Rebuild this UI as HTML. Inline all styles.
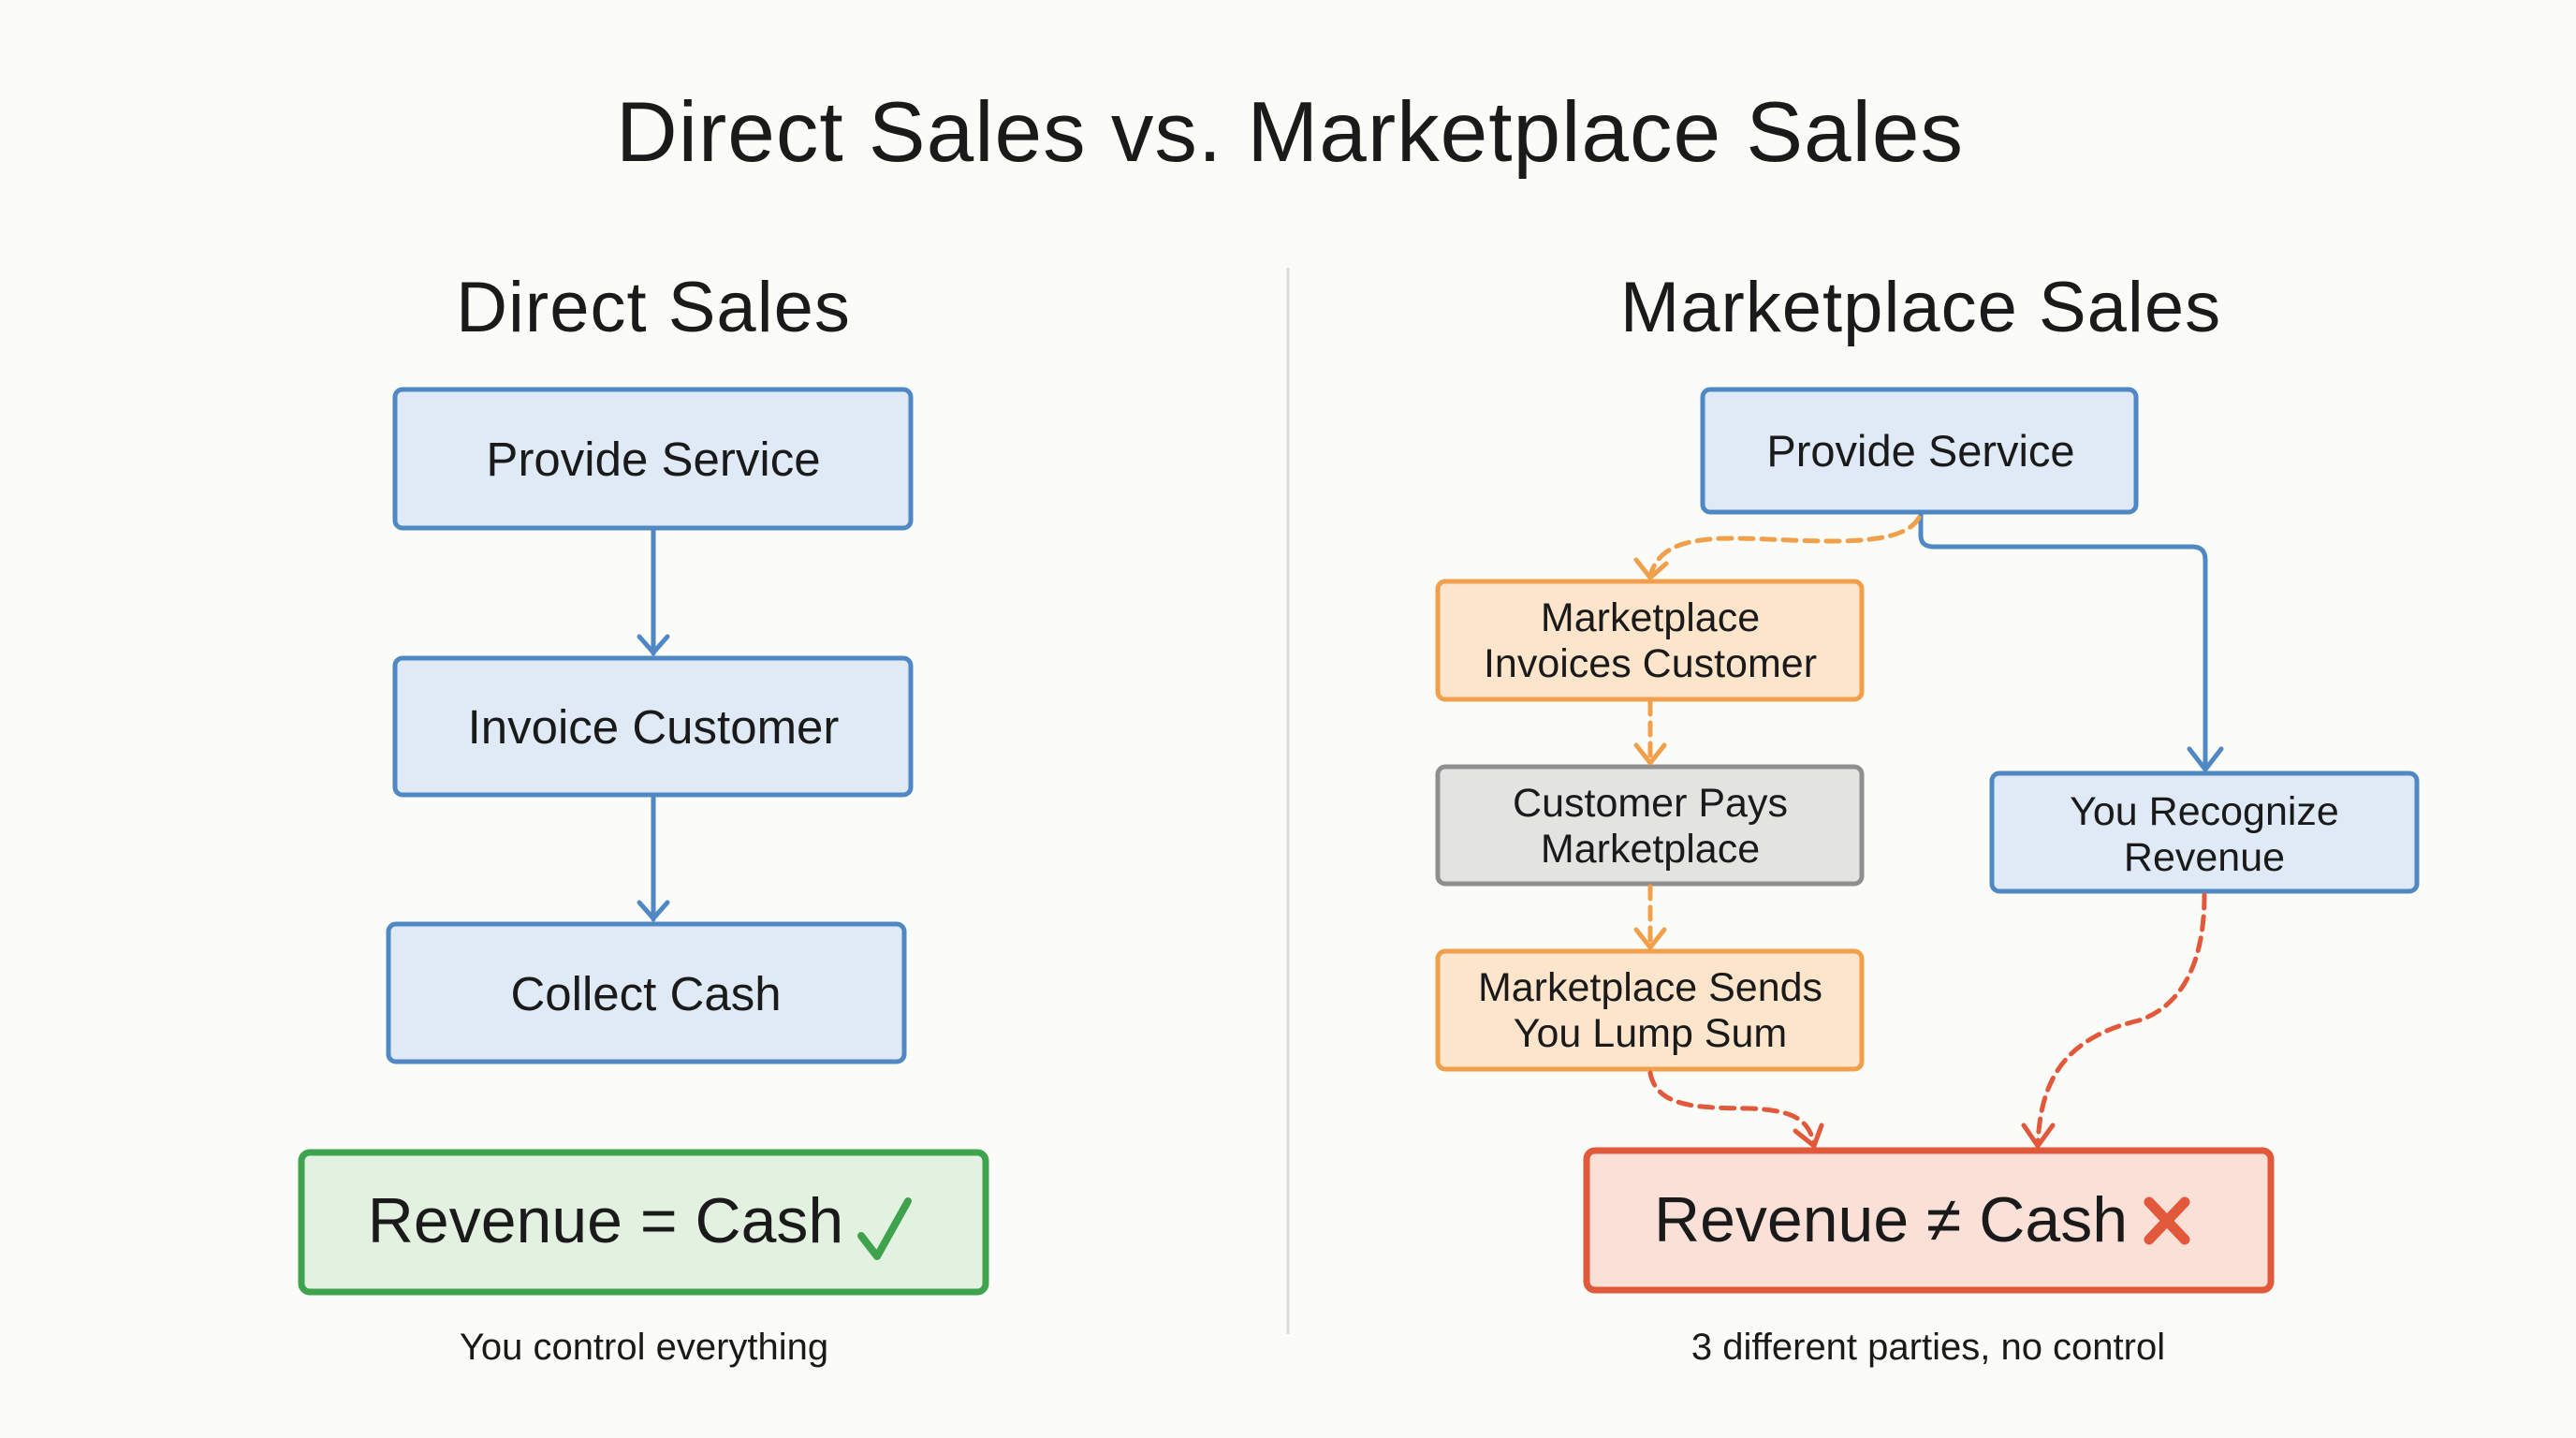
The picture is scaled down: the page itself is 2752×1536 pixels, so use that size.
<!DOCTYPE html>
<html><head><meta charset="utf-8"><style>
html,body{margin:0;padding:0;background:#fbfbf8;}
svg{display:block}
text{font-family:"Liberation Sans",sans-serif;fill:#1a1a1a;text-anchor:middle;}
</style></head><body>
<svg width="2752" height="1536" viewBox="0 0 2752 1536" xmlns="http://www.w3.org/2000/svg">
<rect width="2752" height="1536" fill="#fbfbf8"/>
<text x="1378" y="172" font-size="91" letter-spacing="1">Direct Sales vs. Marketplace Sales</text>
<text x="698" y="354" font-size="76" letter-spacing="1">Direct Sales</text>
<text x="2052" y="354" font-size="76" letter-spacing="1">Marketplace Sales</text>
<line x1="1376" y1="286" x2="1376" y2="1425" stroke="#dcdcdc" stroke-width="3"/>

<g stroke="#4f88c2" stroke-width="5" fill="#dfeaf6">
<rect x="422" y="416" width="551" height="148" rx="8"/>
<rect x="422" y="703" width="551" height="146" rx="8"/>
<rect x="415" y="987" width="551" height="147" rx="8"/>
</g>
<g stroke="#4f88c2" stroke-width="5" fill="none" stroke-linecap="round" stroke-linejoin="round">
<path d="M698 564 V698"/><path d="M683 680 L698 697 L713 680"/>
<path d="M698 849 V982"/><path d="M683 964 L698 981 L713 964"/>
</g>
<text x="698" y="508" font-size="51">Provide Service</text>
<text x="698" y="794" font-size="51">Invoice Customer</text>
<text x="690" y="1079" font-size="51">Collect Cash</text>
<rect x="322" y="1231" width="731" height="149" rx="9" fill="#e3f1e1" stroke="#3fa34d" stroke-width="7"/>
<text x="647" y="1327" font-size="68">Revenue = Cash</text>
<path d="M920 1320 L937 1342 L970 1283" stroke="#3fa34d" stroke-width="8" fill="none" stroke-linecap="round" stroke-linejoin="round"/>
<text x="688" y="1452" font-size="40">You control everything</text>

<rect x="1819" y="416" width="463" height="131" rx="8" fill="#dfeaf6" stroke="#4f88c2" stroke-width="5"/>
<text x="2052" y="498" font-size="47">Provide Service</text>
<rect x="1536" y="621" width="453" height="126" rx="8" fill="#fde5cb" stroke="#f0a04a" stroke-width="5"/>
<text x="1763" y="674" font-size="43">Marketplace</text>
<text x="1763" y="723" font-size="43">Invoices Customer</text>
<rect x="1536" y="819" width="453" height="125" rx="8" fill="#e3e3e2" stroke="#8f8f8f" stroke-width="5"/>
<text x="1763" y="872" font-size="43">Customer Pays</text>
<text x="1763" y="921" font-size="43">Marketplace</text>
<rect x="1536" y="1016" width="453" height="126" rx="8" fill="#fde5cb" stroke="#f0a04a" stroke-width="5"/>
<text x="1763" y="1069" font-size="43">Marketplace Sends</text>
<text x="1763" y="1118" font-size="43">You Lump Sum</text>
<rect x="2128" y="826" width="454" height="126" rx="8" fill="#dfeaf6" stroke="#4f88c2" stroke-width="5"/>
<text x="2355" y="881" font-size="43">You Recognize</text>
<text x="2355" y="930" font-size="43">Revenue</text>
<rect x="1695" y="1229" width="731" height="149" rx="9" fill="#fbe0d8" stroke="#e2583a" stroke-width="7"/>
<text x="2020" y="1326" font-size="68">Revenue ≠ Cash</text>
<path d="M2296 1284 L2334 1324 M2334 1284 L2296 1324" stroke="#e2583a" stroke-width="11" stroke-linecap="round"/>
<text x="2060" y="1452" font-size="40">3 different parties, no control</text>

<g fill="none" stroke-linecap="round" stroke-linejoin="round">
<path d="M2052 549 V572 Q2052 584 2066 584 H2342 Q2356 584 2356 598 V822" stroke="#4f88c2" stroke-width="5"/>
<path d="M2339 800 L2356 822 L2373 800" stroke="#4f88c2" stroke-width="5"/>
<path d="M2050 553 C2030 590 1920 575 1850 575 C1790 575 1770 590 1763 615" stroke="#f0a04a" stroke-width="5" stroke-dasharray="14 9"/>
<path d="M1748 598 L1763 617 L1780 602" stroke="#f0a04a" stroke-width="5"/>
<path d="M1763 750 V813" stroke="#f0a04a" stroke-width="5" stroke-dasharray="13 9"/>
<path d="M1748 796 L1763 815 L1778 796" stroke="#f0a04a" stroke-width="5"/>
<path d="M1763 947 V1010" stroke="#f0a04a" stroke-width="5" stroke-dasharray="13 9"/>
<path d="M1748 993 L1763 1012 L1778 993" stroke="#f0a04a" stroke-width="5"/>
<path d="M1763 1146 C1770 1185 1820 1183 1870 1184 C1915 1186 1932 1195 1938 1222" stroke="#e2583a" stroke-width="5" stroke-dasharray="14 9"/>
<path d="M1918 1208 L1938 1224 L1946 1202" stroke="#e2583a" stroke-width="5"/>
<path d="M2355 956 C2355 1030 2330 1075 2285 1090 C2200 1110 2180 1160 2177 1222" stroke="#e2583a" stroke-width="5" stroke-dasharray="14 9"/>
<path d="M2162 1202 L2177 1224 L2193 1202" stroke="#e2583a" stroke-width="5"/>
</g>
</svg>
</body></html>
